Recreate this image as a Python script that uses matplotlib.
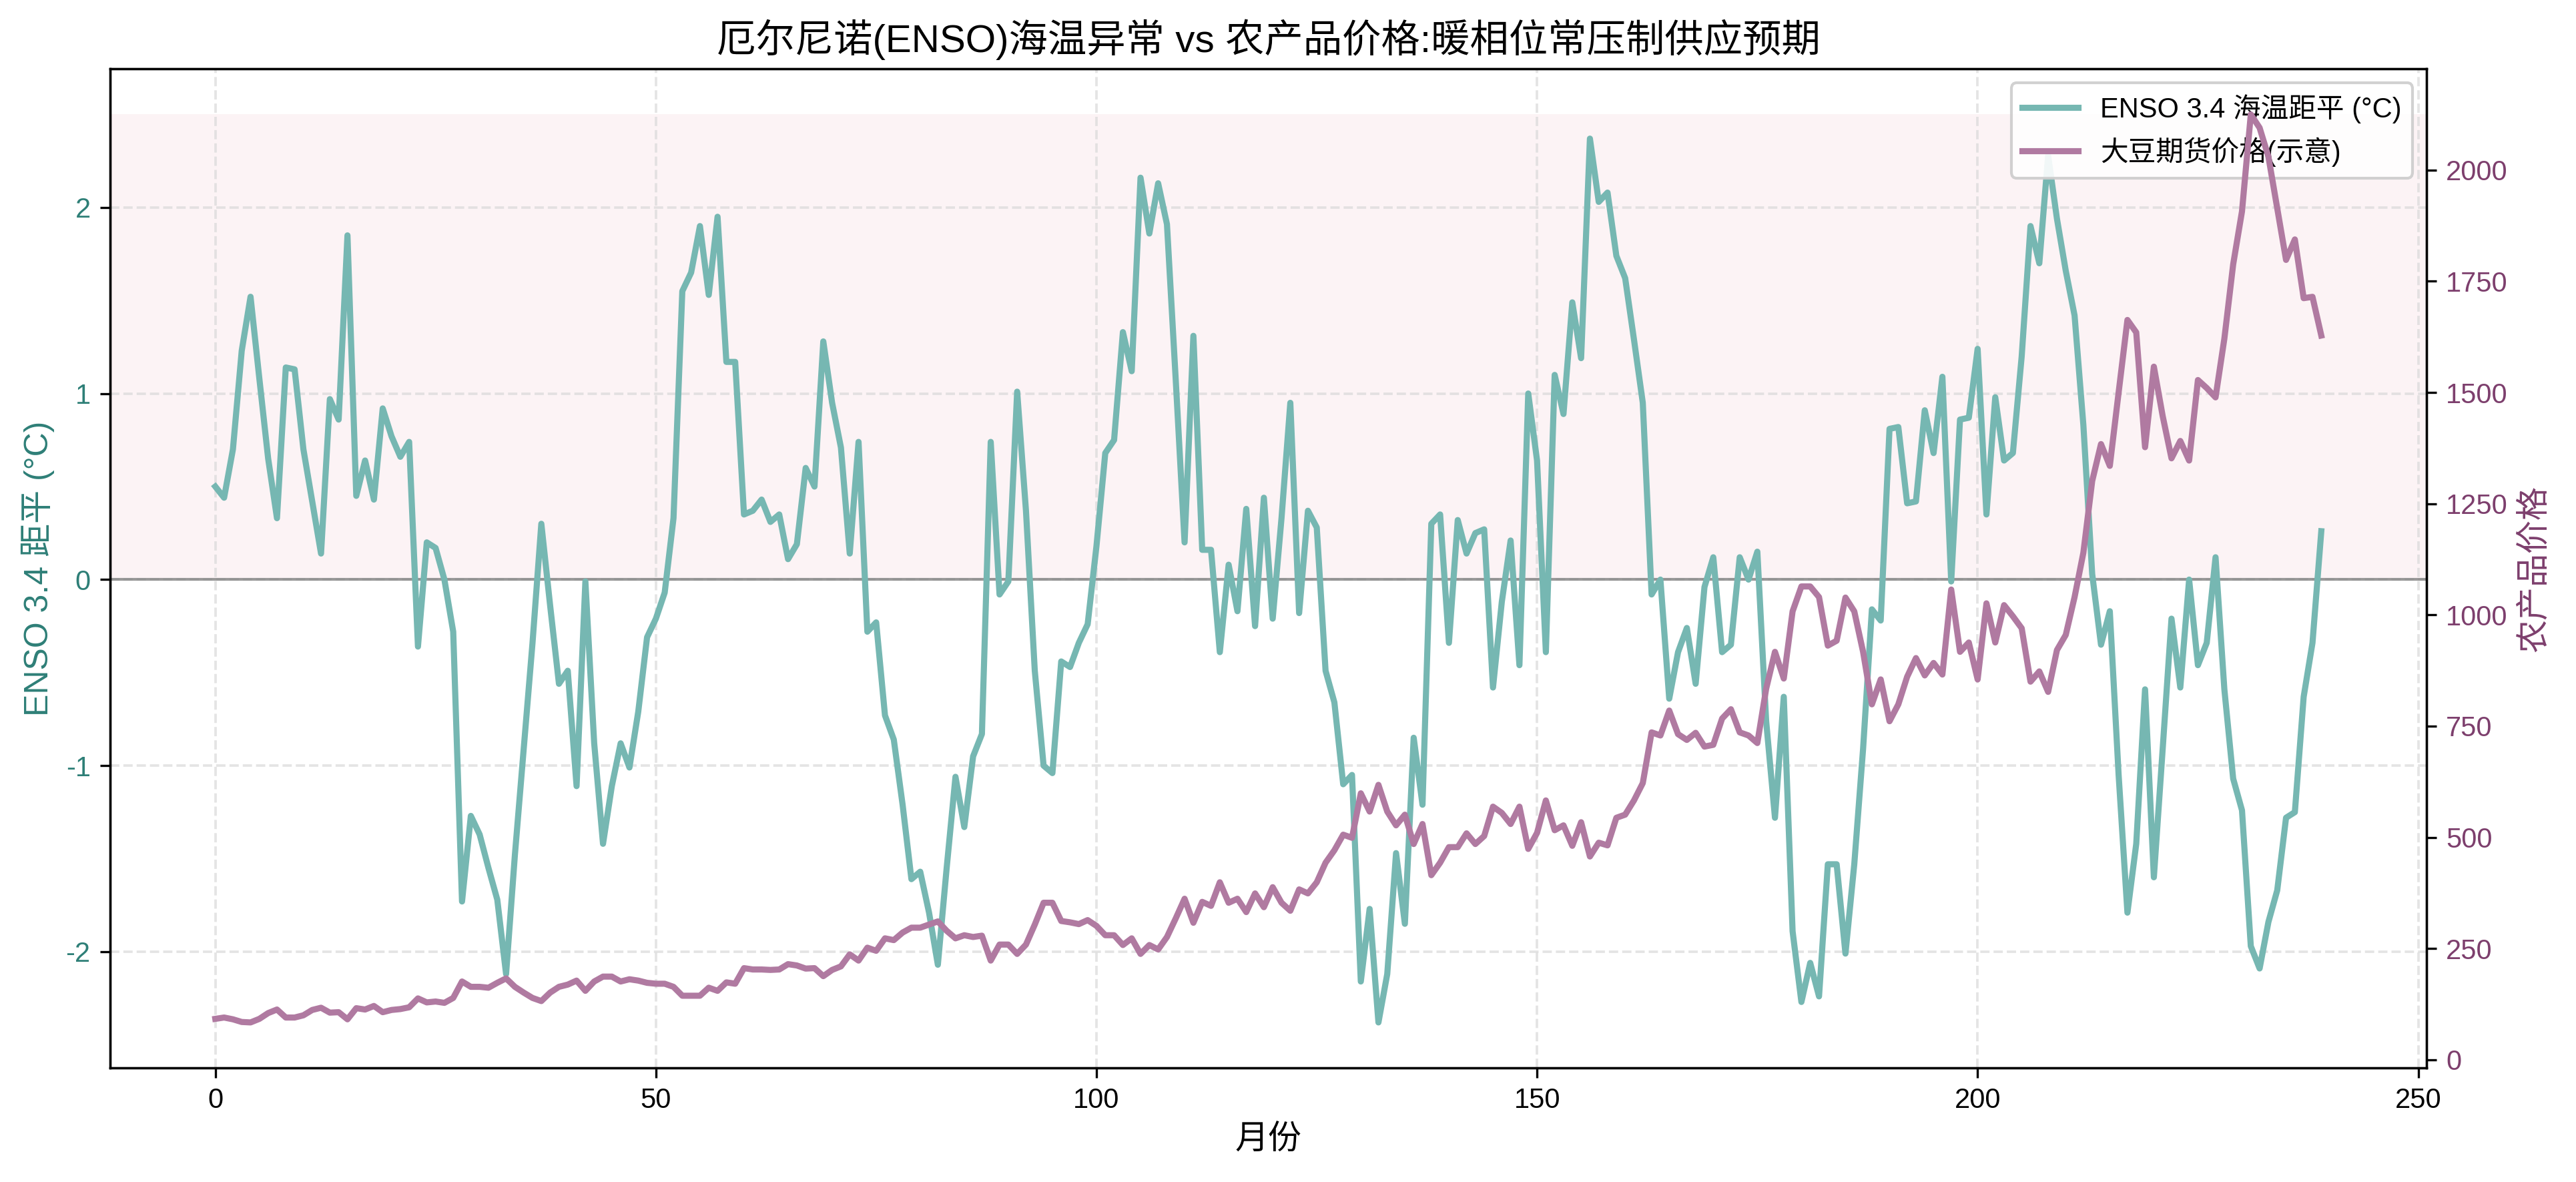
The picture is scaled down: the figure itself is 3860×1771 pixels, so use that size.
import numpy as np
import matplotlib
matplotlib.use("Agg")
import matplotlib.pyplot as plt

plt.rcParams['font.family'] = ['Liberation Sans', 'Noto Sans CJK SC', 'DejaVu Sans']
plt.rcParams['axes.unicode_minus'] = False

# ENSO 3.4 anomaly, one value per month
enso = [
    0.50, 0.44, 0.70, 1.23, 1.52, 1.08, 0.65, 0.33, 1.14, 1.13,
    0.70, 0.42, 0.14, 0.97, 0.86, 1.85, 0.45, 0.64, 0.43, 0.92,
    0.77, 0.66, 0.74, -0.36, 0.20, 0.17, 0.00, -0.28, -1.73, -1.27,
    -1.37, -1.55, -1.72, -2.12, -1.48, -0.91, -0.34, 0.30, -0.14, -0.56,
    -0.49, -1.11, -0.01, -0.88, -1.42, -1.11, -0.88, -1.01, -0.71, -0.31,
    -0.21, -0.07, 0.33, 1.55, 1.65, 1.90, 1.53, 1.95, 1.17, 1.17,
    0.35, 0.37, 0.43, 0.31, 0.35, 0.11, 0.19, 0.60, 0.50, 1.28,
    0.95, 0.71, 0.14, 0.74, -0.28, -0.23, -0.73, -0.86, -1.21, -1.61,
    -1.57, -1.79, -2.07, -1.55, -1.06, -1.33, -0.95, -0.83, 0.74, -0.08,
    -0.01, 1.01, 0.37, -0.49, -1.00, -1.04, -0.44, -0.47, -0.34, -0.24,
    0.18, 0.68, 0.75, 1.33, 1.12, 2.16, 1.86, 2.13, 1.91, 1.07,
    0.20, 1.31, 0.16, 0.16, -0.39, 0.08, -0.17, 0.38, -0.25, 0.44,
    -0.21, 0.33, 0.95, -0.18, 0.37, 0.28, -0.49, -0.66, -1.10, -1.05,
    -2.16, -1.77, -2.38, -2.12, -1.47, -1.85, -0.85, -1.21, 0.30, 0.35,
    -0.34, 0.32, 0.14, 0.25, 0.27, -0.58, -0.12, 0.21, -0.46, 1.00,
    0.64, -0.39, 1.10, 0.89, 1.49, 1.19, 2.37, 2.03, 2.08, 1.74,
    1.62, 1.29, 0.95, -0.08, 0.00, -0.64, -0.39, -0.26, -0.56, -0.04,
    0.12, -0.39, -0.35, 0.12, 0.00, 0.15, -0.76, -1.28, -0.63, -1.89,
    -2.27, -2.06, -2.24, -1.53, -1.53, -2.01, -1.53, -0.91, -0.16, -0.22,
    0.81, 0.82, 0.41, 0.42, 0.91, 0.68, 1.09, -0.01, 0.86, 0.87,
    1.24, 0.35, 0.98, 0.64, 0.68, 1.20, 1.90, 1.70, 2.28, 1.94,
    1.66, 1.42, 0.83, 0.03, -0.35, -0.17, -1.05, -1.79, -1.42, -0.59,
    -1.60, -0.91, -0.21, -0.58, 0.00, -0.46, -0.34, 0.12, -0.59, -1.07,
    -1.24, -1.97, -2.09, -1.84, -1.67, -1.28, -1.25, -0.63, -0.34, 0.26,
]

# soybean futures price (illustrative)
price = [
    92, 95, 91, 85, 84, 92, 105, 113, 95, 95,
    100, 112, 117, 106, 107, 91, 116, 113, 121, 107,
    112, 114, 118, 138, 129, 131, 128, 139, 176, 164,
    164, 162, 173, 183, 164, 151, 139, 132, 151, 164,
    169, 178, 155, 176, 187, 187, 176, 181, 178, 173,
    171, 171, 164, 144, 144, 144, 162, 155, 174, 171,
    206, 203, 203, 202, 203, 215, 212, 205, 206, 188,
    202, 210, 237, 223, 252, 245, 273, 269, 286, 297,
    297, 304, 311, 290, 273, 280, 276, 279, 223, 259,
    259, 238, 259, 304, 353, 353, 312, 309, 305, 314,
    301, 280, 280, 258, 273, 238, 258, 248, 276, 318,
    362, 308, 355, 346, 399, 353, 362, 332, 374, 343,
    388, 353, 335, 383, 374, 399, 443, 471, 506, 499,
    599, 558, 618, 558, 527, 551, 485, 530, 415, 443,
    478, 478, 509, 485, 503, 569, 555, 530, 569, 474,
    510, 583, 516, 527, 481, 534, 457, 488, 482, 544,
    551, 583, 622, 736, 729, 785, 732, 719, 735, 704,
    708, 767, 788, 736, 729, 712, 834, 917, 857, 1008,
    1064, 1064, 1040, 931, 942, 1039, 1008, 917, 799, 855,
    761, 799, 861, 903, 864, 892, 866, 1057, 917, 938,
    855, 1026, 938, 1022, 997, 970, 850, 873, 827, 921,
    955, 1040, 1140, 1301, 1384, 1335, 1500, 1663, 1635, 1377,
    1558, 1447, 1352, 1391, 1347, 1528, 1510, 1489, 1621, 1788,
    1907, 2125, 2095, 2030, 1914, 1798, 1844, 1712, 1715, 1628,
]

months = np.arange(len(enso))

teal = '#76b7b2'
purple = '#b07aa1'
teal_dark = '#2e7f77'
purple_dark = '#7d3f6d'

fig = plt.figure(figsize=(3860 / 300, 1771 / 300), dpi=300)
ax = fig.add_axes([0.0427, 0.0966, 0.8993, 0.845])

ax.axhspan(0, 2.5, color='#e8a3ad', alpha=0.12, lw=0)
ax.axhline(0, color='gray', lw=1.0, alpha=0.8)
l1, = ax.plot(months, enso, color=teal, lw=2.2, label='ENSO 3.4 海温距平 (°C)')
ax.grid(True, linestyle='--', color='#d9d9d9', alpha=0.7, lw=0.9)
ax.set_xlabel('月份', fontsize=12)
ax.set_ylabel('ENSO 3.4 距平 (°C)', color=teal_dark, fontsize=12)
ax.tick_params(axis='y', labelcolor=teal_dark, labelsize=10)
ax.tick_params(axis='x', labelsize=10)

ax2 = ax.twinx()
l2, = ax2.plot(months, price, color=purple, lw=2.2, label='大豆期货价格(示意)')
ax2.set_ylabel('农产品价格', color=purple_dark, fontsize=12)
ax2.tick_params(axis='y', labelcolor=purple_dark, labelsize=10)

ax.set_title('厄尔尼诺(ENSO)海温异常 vs 农产品价格:暖相位常压制供应预期', fontsize=14)
ax.legend(handles=[l1, l2], loc='upper right', fontsize=10, framealpha=0.9)

fig.savefig('out.png', dpi=300)
